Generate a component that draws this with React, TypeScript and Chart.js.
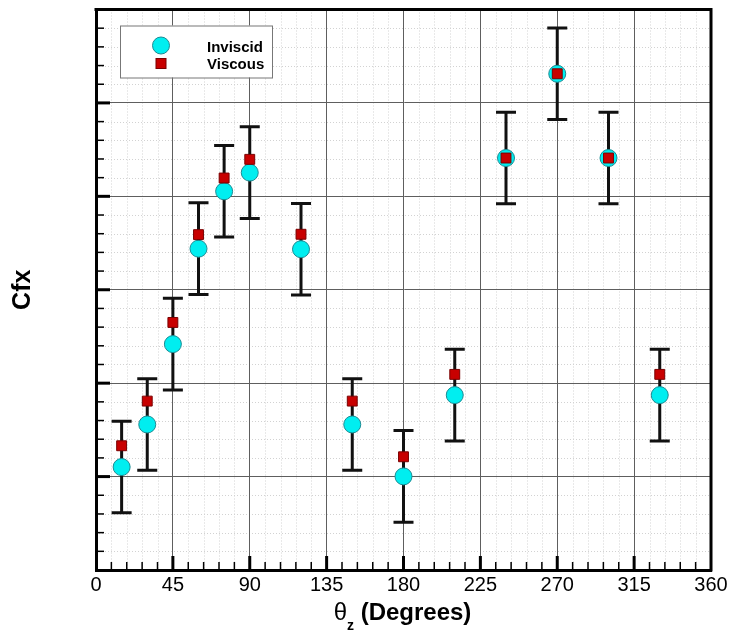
import { useEffect, useRef } from 'react';
import { Chart, registerables } from 'chart.js';

Chart.register(...registerables);

// ---- data ----
const angles = [15, 30, 45, 60, 75, 90, 120, 150, 180, 210, 240, 270, 300, 330];
const inviscid = [5.51, 7.79, 12.09, 17.2, 20.27, 21.27, 17.17, 7.79, 5.01, 9.36, 22.05, 26.56, 22.05, 9.36];
const viscous = [6.65, 9.04, 13.25, 17.95, 20.98, 21.98, 17.97, 9.04, 6.06, 10.47, 22.05, 26.56, 22.05, 10.47];
const errorHalf = [2.45, 2.45, 2.45, 2.45, 2.45, 2.45, 2.45, 2.45, 2.45, 2.45, 2.45, 2.45, 2.45, 2.45];
const xTickValues = [0, 45, 90, 135, 180, 225, 270, 315, 360];
const xMinorStep = 9;
const yMin = 0;
const yMax = 30;
const yMajorStep = 5;
const yMinorStep = 1;
const seriesLabels = ['Inviscid', 'Viscous'];
const xTitleMain = 'θ';
const xTitleSub = 'z';
const xTitleRest = ' (Degrees)';
const yTitle = 'Cfx';

const FONT = "'Liberation Sans', Arial, Helvetica, sans-serif";
const CYAN = '#00eef0';
const CYAN_BORDER = '#1c8a92';
const RED = '#c80000';
const RED_BORDER = '#7a0000';

const minorGridPlugin = {
  id: 'minorGrid',
  beforeDraw(chart: any) {
    const { ctx, chartArea: a, scales } = chart;
    const xs = scales.x;
    const ys = scales.y;
    ctx.save();
    ctx.strokeStyle = '#d2d2d2';
    ctx.lineWidth = 1;
    ctx.setLineDash([1, 2]);
    for (let v = 0; v <= 360; v += xMinorStep) {
      if (v % 45 === 0) continue;
      const px = Math.round(xs.getPixelForValue(v)) + 0.5;
      ctx.beginPath();
      ctx.moveTo(px, a.top);
      ctx.lineTo(px, a.bottom);
      ctx.stroke();
    }
    for (let v = yMin; v <= yMax; v += yMinorStep) {
      if (v % yMajorStep === 0) continue;
      const py = Math.round(ys.getPixelForValue(v)) + 0.5;
      ctx.beginPath();
      ctx.moveTo(a.left, py);
      ctx.lineTo(a.right, py);
      ctx.stroke();
    }
    ctx.restore();
  },
};

const errorBarPlugin = {
  id: 'errorBars',
  beforeDatasetsDraw(chart: any) {
    const { ctx, scales } = chart;
    const xs = scales.x;
    const ys = scales.y;
    ctx.save();
    ctx.strokeStyle = '#111';
    ctx.lineWidth = 3;
    ctx.setLineDash([]);
    angles.forEach((a, i) => {
      const px = xs.getPixelForValue(a);
      const top = ys.getPixelForValue(inviscid[i] + errorHalf[i]);
      const bot = ys.getPixelForValue(inviscid[i] - errorHalf[i]);
      ctx.beginPath();
      ctx.moveTo(px, top);
      ctx.lineTo(px, bot);
      ctx.moveTo(px - 10, top);
      ctx.lineTo(px + 10, top);
      ctx.moveTo(px - 10, bot);
      ctx.lineTo(px + 10, bot);
      ctx.stroke();
    });
    ctx.restore();
  },
};

const frameAndTitlePlugin = {
  id: 'frameAndTitle',
  afterDraw(chart: any) {
    const { ctx, chartArea: a, scales } = chart;
    const xs = scales.x;
    const ys = scales.y;
    ctx.save();
    ctx.setLineDash([]);
    ctx.strokeStyle = '#000';
    // top and right frame
    ctx.lineWidth = 3;
    ctx.beginPath();
    ctx.moveTo(a.left - 1.5, a.top);
    ctx.lineTo(a.right, a.top);
    ctx.lineTo(a.right, a.bottom + 1.5);
    ctx.stroke();
    // inner ticks on the left axis
    for (let v = yMin + yMinorStep; v < yMax; v += yMinorStep) {
      const major = v % yMajorStep === 0;
      const py = ys.getPixelForValue(v);
      ctx.lineWidth = major ? 3 : 1.5;
      ctx.beginPath();
      ctx.moveTo(a.left, py);
      ctx.lineTo(a.left + (major ? 14 : 8), py);
      ctx.stroke();
    }
    // inner ticks on the bottom axis
    for (let v = xMinorStep; v < 360; v += xMinorStep) {
      const major = v % 45 === 0;
      const px = xs.getPixelForValue(v);
      ctx.lineWidth = major ? 3 : 1.5;
      ctx.beginPath();
      ctx.moveTo(px, a.bottom);
      ctx.lineTo(px, a.bottom - (major ? 14 : 8));
      ctx.stroke();
    }

    // x axis title with subscript
    const mainFont = `24px ${FONT}`;
    const boldFont = `bold 24px ${FONT}`;
    const subFont = `bold 14px ${FONT}`;
    ctx.fillStyle = '#000';
    ctx.textBaseline = 'alphabetic';
    ctx.textAlign = 'left';
    ctx.font = mainFont;
    const w1 = ctx.measureText(xTitleMain).width;
    ctx.font = subFont;
    const w2 = ctx.measureText(xTitleSub).width;
    ctx.font = boldFont;
    const w3 = ctx.measureText(xTitleRest).width;
    const total = w1 + w2 + w3;
    let x = (a.left + a.right) / 2 - total / 2 - 1;
    const base = 620;
    ctx.font = mainFont;
    ctx.fillText(xTitleMain, x, base);
    x += w1;
    ctx.font = subFont;
    ctx.fillText(xTitleSub, x, base + 10);
    x += w2;
    ctx.font = boldFont;
    ctx.fillText(xTitleRest, x, base);

    // legend
    const lx = a.left + 24;
    const ly = a.top + 16;
    const lw = 152;
    const lh = 52;
    ctx.fillStyle = '#fff';
    ctx.fillRect(lx, ly, lw, lh);
    ctx.strokeStyle = '#777';
    ctx.lineWidth = 1;
    ctx.strokeRect(lx + 0.5, ly + 0.5, lw, lh);
    // circle
    ctx.beginPath();
    ctx.arc(lx + 41, ly + 20, 8.5, 0, Math.PI * 2);
    ctx.fillStyle = CYAN;
    ctx.fill();
    ctx.strokeStyle = CYAN_BORDER;
    ctx.lineWidth = 1;
    ctx.stroke();
    // square
    ctx.fillStyle = RED;
    ctx.fillRect(lx + 36, ly + 33, 10, 10);
    ctx.strokeStyle = RED_BORDER;
    ctx.strokeRect(lx + 36, ly + 33, 10, 10);
    ctx.fillStyle = '#000';
    ctx.font = `bold 15px ${FONT}`;
    ctx.textAlign = 'left';
    ctx.fillText(seriesLabels[0], lx + 87, ly + 26);
    ctx.fillText(seriesLabels[1], lx + 87, ly + 43);
    ctx.restore();
  },
};

export default function App() {
  const ref = useRef<HTMLCanvasElement | null>(null);

  useEffect(() => {
    const canvas = ref.current;
    if (!canvas) return;
    const chart = new Chart(canvas, {
      type: 'scatter',
      data: {
        datasets: [
          {
            label: seriesLabels[1],
            data: angles.map((a, i) => ({ x: a, y: viscous[i] })),
            pointStyle: 'rect',
            pointRadius: 7,
            pointHoverRadius: 7,
            backgroundColor: RED,
            borderColor: RED_BORDER,
            borderWidth: 1,
            order: 0,
          },
          {
            label: seriesLabels[0],
            data: angles.map((a, i) => ({ x: a, y: inviscid[i] })),
            pointStyle: 'circle',
            pointRadius: 8.5,
            pointHoverRadius: 8.5,
            backgroundColor: CYAN,
            borderColor: CYAN_BORDER,
            borderWidth: 1,
            order: 1,
          },
        ],
      },
      options: {
        responsive: false,
        animation: false,
        events: [],
        layout: { padding: { left: 0, top: 9, right: 21, bottom: 0 } },
        plugins: {
          legend: { display: false },
          tooltip: { enabled: false },
          title: { display: false },
        },
        scales: {
          x: {
            type: 'linear',
            min: 0,
            max: 360,
            afterBuildTicks: (s: any) => {
              s.ticks = xTickValues.map((v) => ({ value: v }));
            },
            ticks: {
              autoSkip: false,
              maxRotation: 0,
              padding: 3,
              color: '#000',
              font: { family: FONT, size: 20 },
            },
            grid: { color: '#5e5e5e', lineWidth: 1, drawTicks: false },
            border: { color: '#000', width: 3 },
            afterFit: (s: any) => {
              s.height = 63;
            },
          },
          y: {
            type: 'linear',
            min: yMin,
            max: yMax,
            ticks: { display: false, stepSize: yMajorStep },
            grid: { color: '#5e5e5e', lineWidth: 1, drawTicks: false },
            border: { color: '#000', width: 3 },
            title: {
              display: true,
              text: yTitle,
              color: '#000',
              font: { family: FONT, size: 25, weight: 'bold' },
              padding: { top: 8, bottom: 0 },
            },
            afterFit: (s: any) => {
              s.width = 96;
            },
          },
        },
      },
      plugins: [minorGridPlugin, errorBarPlugin, frameAndTitlePlugin],
    } as any);
    return () => chart.destroy();
  }, []);

  return (
    <div style={{ position: 'fixed', left: 0, top: 0, width: 732, height: 633, background: '#fff' }}>
      <canvas ref={ref} width={732} height={633} style={{ display: 'block' }} />
    </div>
  );
}
